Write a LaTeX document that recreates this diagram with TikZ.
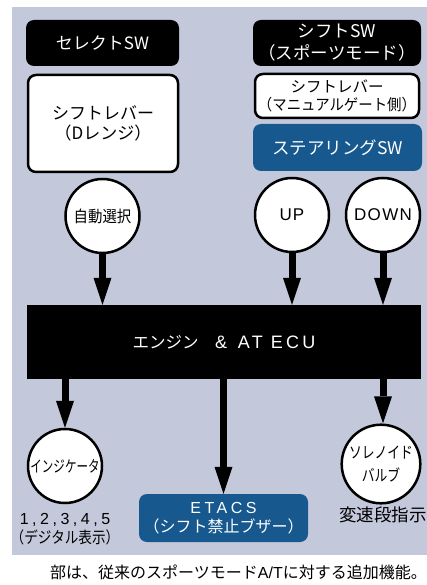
\documentclass[tikz,border=0pt]{standalone}
\usepackage{fontspec}
\usepackage{graphicx}
\setmainfont{Noto Sans CJK JP}
\newfontfamily\lat{Liberation Sans}
\usetikzlibrary{arrows.meta}
\definecolor{bg}{HTML}{C3C8DB}
\definecolor{navy}{HTML}{17598E}
\begin{document}
\begin{tikzpicture}[x=1pt,y=-1pt,
  box/.style={rounded corners=8pt, align=center, inner sep=0pt, font=\fontsize{17}{20}\selectfont},
  blk/.style={box, fill=black, text=white},
  wht/.style={box, fill=white, draw=black, line width=2.5pt},
  blu/.style={box, fill=navy, text=white},
  circ/.style={circle, draw=black, fill=white, line width=2.5pt, minimum size=74pt, inner sep=0pt, align=center, font=\fontsize{16}{20}\selectfont},
  arr/.style={line width=7pt, -{Triangle[width=18pt,length=27pt,line width=0pt]}},
  plain/.style={align=center, inner sep=0pt, font=\fontsize{16}{19}\selectfont}]
\useasboundingbox (0,0) rectangle (427,585);
\fill[bg] (12,7) rectangle (427,555);
% left column
\node[blk, minimum width=153pt, minimum height=46pt] (sel) at (102.5,43) {セレクトSW};
\node[wht, minimum width=150pt, minimum height=97pt] (lev) at (103,123.5) {\raisebox{-4pt}{\parbox{140pt}{\centering シフトレバー\\（Dレンジ）}}};
\node[circ] (auto) at (102.5,216) {\scalebox{0.9}[1]{自動選択}};
% right column
\node[blk, minimum width=168pt, minimum height=46pt, font=\fontsize{17.5}{22}\selectfont] (shsw) at (337,43) {シフトSW\\（スポーツモード）};
\node[wht, minimum width=164pt, minimum height=44pt, font=\fontsize{15.5}{18.5}\selectfont] (man) at (337,96) {シフトレバー\\\scalebox{0.93}[1]{（マニュアルゲート側）}};
\node[blu, minimum width=169pt, minimum height=47pt, font=\fontsize{17.5}{20}\selectfont] (steer) at (337.5,147.5) {ステアリングSW};
\node[circ, font=\fontsize{17}{20}\selectfont] (up) at (292,215) {\lat\addfontfeatures{LetterSpace=6}UP};
\node[circ, font=\fontsize{17}{20}\selectfont] (down) at (383,215) {\lat\addfontfeatures{LetterSpace=8}DOWN};
% ECU
\node[fill=black, text=white, minimum width=394pt, minimum height=74pt, inner sep=0pt, font=\fontsize{16.5}{20}\selectfont] (ecu) at (224,342) {エンジン\hspace{1em}{\lat\fontsize{18}{20}\selectfont\&\hspace{0.6em}{\addfontfeatures{LetterSpace=18}AT}\hspace{0.45em}{\addfontfeatures{LetterSpace=18}ECU}}};
% outputs
\node[circ] (ind) at (65,466) {\scalebox{0.72}[1]{インジケータ}};
\node[plain, anchor=north] (indt) at (65,513) {{\lat\addfontfeatures{LetterSpace=22}1,2,3,4,5}\\\scalebox{0.85}[1]{（デジタル表示）}};
\node[blu, minimum width=169pt, minimum height=48pt, font=\fontsize{16}{19}\selectfont] (etacs) at (223.5,518) {\raisebox{-1pt}{\parbox{160pt}{\centering{\lat\addfontfeatures{LetterSpace=22}ETACS}\\（シフト禁止ブザー）}}};
\node[circ, font=\fontsize{16}{23}\selectfont] (sol) at (381,464) {\raisebox{-4pt}{\parbox{70pt}{\centering\scalebox{0.8}[1]{ソレノイド}\\\scalebox{0.8}[1]{バルブ}}}};
\node[plain, font=\fontsize{17.5}{20}\selectfont] (solt) at (383,515) {変速段指示};
% arrows
\draw[arr] (auto.south) -- (auto |- ecu.north);
\draw[arr] (up.south) -- (up |- ecu.north);
\draw[arr] (down.south) -- (down |- ecu.north);
\draw[arr] (ind |- ecu.south) -- (ind.north);
\draw[arr] (etacs |- ecu.south) -- (etacs.north);
\draw[arr] ([xshift=2pt]sol |- ecu.south) -- ([xshift=2pt]sol.north);
% caption
\node[plain, anchor=west, font=\fontsize{16}{19}\selectfont] (cap) at (50,572) {部は、従来のスポーツモード{\lat A/T}に対する追加機能。};
\end{tikzpicture}
\end{document}
